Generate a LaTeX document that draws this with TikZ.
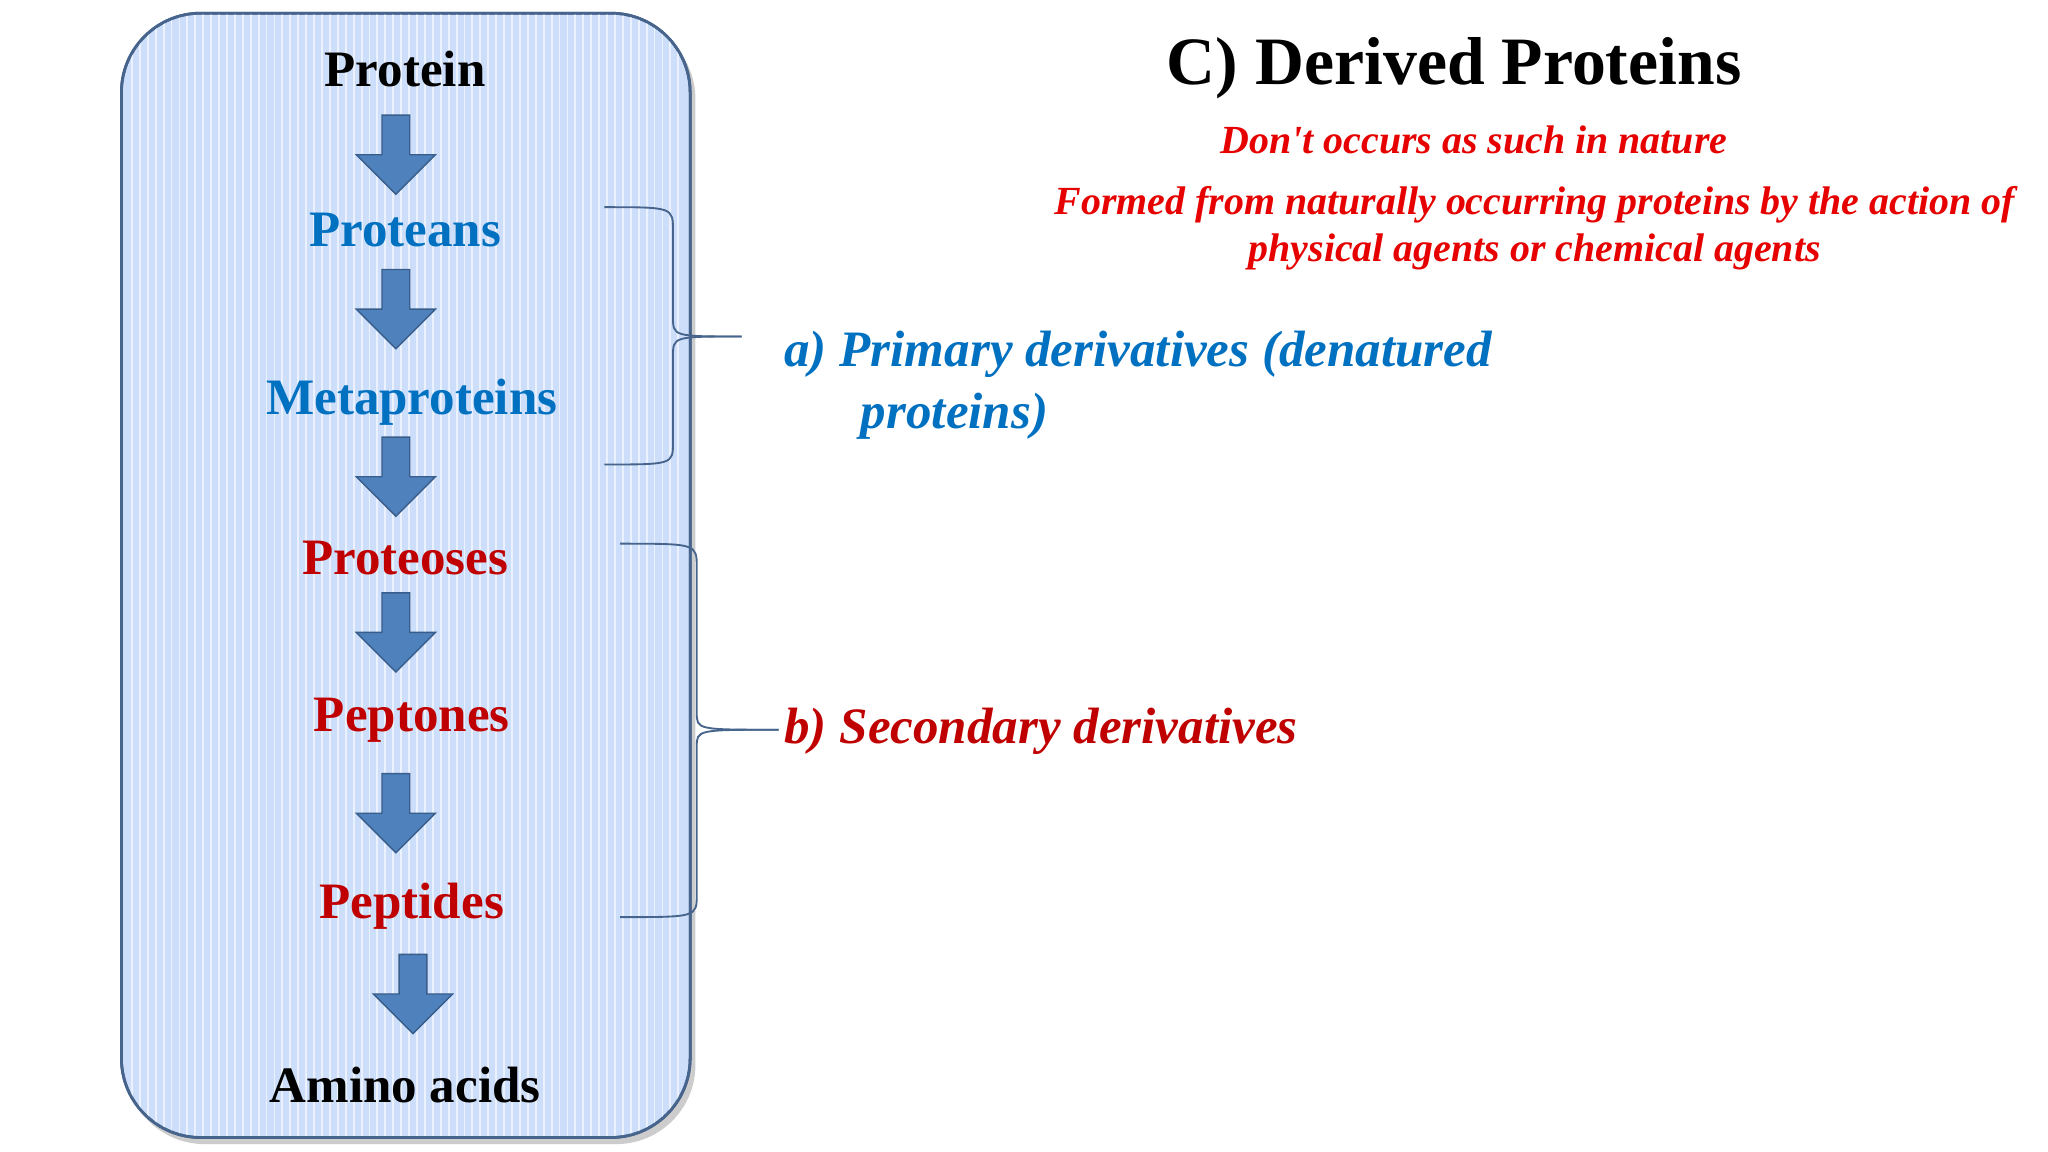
\documentclass[tikz,border=0pt]{standalone}
\usepackage{fontspec}
\setmainfont{Liberation Serif}
\usetikzlibrary{shapes.arrows}
\definecolor{boxfill}{RGB}{204,222,250}
\definecolor{boxline}{RGB}{70,100,140}
\definecolor{arrfill}{RGB}{79,129,189}
\definecolor{arrline}{RGB}{56,93,138}
\definecolor{tblue}{RGB}{0,112,192}
\definecolor{tred}{RGB}{192,0,0}
\definecolor{bred}{RGB}{230,0,0}
\tikzset{
 stage/.style={font=\fontsize{11}{13}\selectfont\bfseries},
 darr/.style={single arrow, shape border rotate=270, fill=arrfill, draw=arrline, line width=0.3pt,
   minimum width=0.6cm, minimum height=0.6cm, single arrow head extend=0.14cm, inner sep=0.07cm},
 brace/.style={draw=boxline, line width=0.4pt},
 note/.style={font=\fontsize{8.6}{10}\selectfont\bfseries\itshape, text=bred, align=center},
 deriv/.style={font=\fontsize{11}{13.5}\selectfont\bfseries\itshape, anchor=west, align=left}
}
\begin{document}
\begin{tikzpicture}[x=0.01cm,y=-0.01cm]
\useasboundingbox[fill=white] (0,0) rectangle (1552,873);
\fill[gray!40, rounded corners=0.6cm] (95,15) rectangle (527,867);
\draw[fill=boxfill, draw=boxline, line width=0.6pt, rounded corners=0.6cm] (92,10) rectangle (523,862);
\begin{scope}
\clip[rounded corners=0.6cm] (92,10) rectangle (523,862);
\foreach \x in {100,106,...,518} \draw[white!60!boxfill, line width=0.4pt] (\x,10) -- (\x,862);
\end{scope}
\draw[draw=boxline, line width=0.6pt, rounded corners=0.6cm] (92,10) rectangle (523,862);
\node[stage] (p0) at (307,52) {Protein};
\node[stage,text=tblue] (p1) at (307,174) {Proteans};
\node[stage,text=tblue] (p2) at (312,305) {Metaproteins};
\node[stage,text=tred] (p3) at (307,423) {Proteoses};
\node[stage,text=tred] (p4) at (312,546) {Peptones};
\node[stage,text=tred] (p5) at (312,687) {Peptides};
\node[stage] (p6) at (307,822) {Amino acids};
\node[darr] (a1) at (300,112) {};
\node[darr] (a2) at (300,229) {};
\node[darr] (a3) at (300,356) {};
\node[darr] (a4) at (300,474) {};
\node[darr] (a5) at (300,611) {};
\node[darr] (a6) at (313,748) {};
\node[font=\fontsize{14.6}{17}\selectfont\bfseries] (t) at (1102,52) {C) Derived Proteins};
\node[note] (n1) at (1117,106) {Don\textquotesingle t occurs as such in nature};
\node[note] (n2) at (1163,173) {Formed from naturally occurring proteins by the action of\\physical agents or chemical agents};
\node[deriv,text=tblue] (d1) at (582,292) {a) Primary derivatives (denatured\\\hspace{0.58cm}proteins)};
\node[deriv,text=tred] (d2) at (582,554) {b) Secondary derivatives};
\coordinate (b1t) at (458,157); \coordinate (b1b) at (458,352); \coordinate (b1m) at (562,255);
\draw[brace] (b1t) .. controls (510,157) .. (510,175) -- (510,240) .. controls (510,255) .. (b1m);
\draw[brace] (b1b) .. controls (510,352) .. (510,335) -- (510,270) .. controls (510,255) .. (b1m);
\coordinate (b2t) at (470,412); \coordinate (b2b) at (470,695); \coordinate (b2m) at (590,553);
\draw[brace] (b2t) .. controls (528,412) .. (528,430) -- (528,540) .. controls (528,553) .. (b2m);
\draw[brace] (b2b) .. controls (528,695) .. (528,678) -- (528,566) .. controls (528,553) .. (b2m);
\end{tikzpicture}
\end{document}
